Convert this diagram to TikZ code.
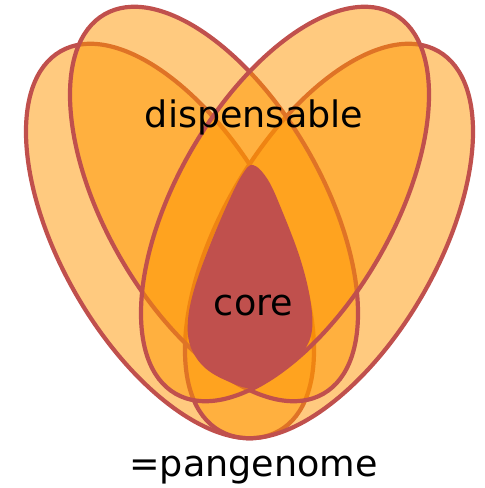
\documentclass[tikz,border=0pt]{standalone}
\usepackage{fontspec}
\setmainfont{DejaVu Sans}
\definecolor{edgered}{RGB}{192,80,77}
\definecolor{petal}{RGB}{255,150,0}
\begin{document}
\begin{tikzpicture}[x=1pt,y=1pt,
  setshape/.style={draw=edgered, line width=4.2pt, fill=petal, fill opacity=0.5},
  txt/.style={font=\fontsize{36.5}{40}\selectfont, text=black, inner sep=0pt, anchor=base}]
\useasboundingbox (0,0) rectangle (485,488);
% outer sets
\path[setshape, rotate around={-60:(170,247)}] (170,247) ellipse [x radius=219, y radius=108];
\path[setshape, rotate around={60:(329,247)}] (329,247) ellipse [x radius=219, y radius=108];
% inner sets
\path[setshape, rotate around={-60:(214,284)}] (214,284) ellipse [x radius=219, y radius=108];
\path[setshape, rotate around={60:(285,284)}] (285,284) ellipse [x radius=219, y radius=108];
% core
\fill[edgered] plot[smooth cycle, tension=0.6] coordinates {
  (253,323) (268,308) (283,275) (300,230) (310,190) (312,158) (303,136)
  (282,116) (253,100) (225,108) (203,122) (190,143) (188,168) (194,198)
  (208,238) (227,283) (242,313)};
\node[txt] (disp) at (254,360) {dispensable};
\node[txt] (core) at (253.5,172) {core};
\node[txt] (pan) at (253.5,12) {=pangenome};
\end{tikzpicture}
\end{document}
